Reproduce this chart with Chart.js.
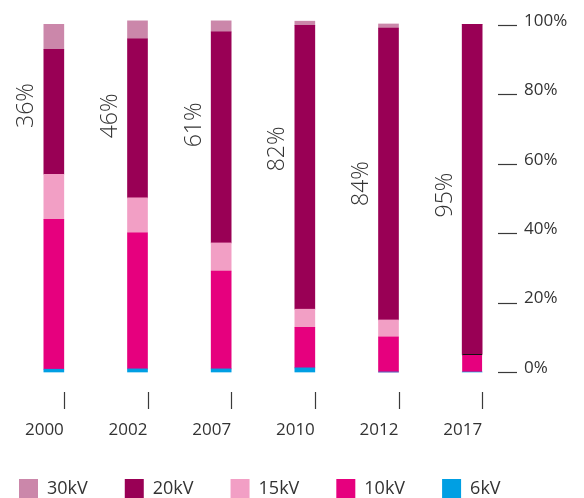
<!DOCTYPE html>
<html><head><meta charset="utf-8">
<script src="https://cdn.jsdelivr.net/npm/chart.js@4/dist/chart.umd.min.js"></script>
<style>
html,body{margin:0;padding:0;overflow:hidden;background:#fff;}
#wrap{position:relative;width:584px;height:508px;}
</style></head><body>
<div id="wrap"><canvas id="c"></canvas></div>
<script>
// ---- data ----
const years = ['2000', '2002', '2007', '2010', '2012', '2017'];
const kv6  = [0.8, 0.9, 0.9, 1.2, 0, 0];
const kv10 = [43.2, 39.2, 28.2, 11.7, 10.1, 5.1];
const kv15 = [13.0, 10.1, 8.1, 5.2, 4.9, 0];
const kv20 = [36.0, 45.8, 60.8, 81.8, 84.1, 95.1];
const kv30 = [7.2, 5.2, 3.2, 1.2, 1.2, 0];
const shareLabels = ['36%', '46%', '61%', '82%', '84%', '95%'];
const shareLabelAt = [76.8, 73.8, 71.2, 64.3, 54.3, 51.0]; // value (in %) where each rotated label is centred
const yTickValues = [0, 20, 40, 60, 80, 100];

const BAR = 20;
const FONT = 'Open Sans';
const TXT = '#333';

const marks = {
  id: 'marks',
  afterLayout(chart) {
    const lg = chart.legend;
    if (lg) { lg.left -= 30; lg.right -= 30; }
  },
  afterDraw(chart) {
    const {ctx, chartArea, scales: {x, y}} = chart;
    ctx.save();
    ctx.strokeStyle = '#3a3a3a';
    ctx.lineWidth = 1.2;
    yTickValues.forEach(v => {
      const py = Math.round(y.getPixelForValue(v)) + 0.5;
      ctx.beginPath();
      ctx.moveTo(chartArea.right - 16, py);
      ctx.lineTo(chartArea.right + 3, py);
      ctx.stroke();
    });
    years.forEach((_, i) => {
      const px = Math.round(x.getPixelForValue(i) + BAR / 2) + 0.5;
      ctx.beginPath();
      ctx.moveTo(px, chartArea.bottom + 20);
      ctx.lineTo(px, chartArea.bottom + 37);
      ctx.stroke();
    });
    ctx.fillStyle = TXT;
    ctx.font = '300 23px "' + FONT + '"';
    ctx.textAlign = 'center';
    ctx.textBaseline = 'middle';
    shareLabels.forEach((s, i) => {
      ctx.save();
      ctx.translate(x.getPixelForValue(i) - 27, y.getPixelForValue(shareLabelAt[i]));
      ctx.rotate(-Math.PI / 2);
      ctx.fillText(s, 0, 0);
      ctx.restore();
    });
    ctx.restore();
  }
};

const ds = (label, data, color, extra) => Object.assign({
  label, data, backgroundColor: color, borderWidth: 0, barThickness: BAR, clip: false
}, extra || {});

new Chart(document.getElementById('c'), {
  type: 'bar',
  data: {
    labels: years,
    datasets: [
      ds('6kV', kv6, '#009fe3'),
      ds('10kV', kv10, '#e6007e', {
        borderColor: '#111',
        borderWidth: c => (c.dataIndex === 5 ? {top: 1, left: 0, right: 0, bottom: 0} : 0)
      }),
      ds('15kV', kv15, '#f29fc5'),
      ds('20kV', kv20, '#990055'),
      ds('30kV', kv30, '#cb87aa')
    ]
  },
  options: {
    responsive: true,
    maintainAspectRatio: false,
    animation: false,
    layout: {padding: {left: 12, right: 0, top: 25, bottom: 0}},
    plugins: {
      tooltip: {enabled: false},
      legend: {
        position: 'bottom',
        align: 'start',
        reverse: true,
        labels: {
          boxWidth: 19, boxHeight: 19, padding: 37, color: TXT,
          font: {family: FONT, size: 18, weight: 400}
        }
      }
    },
    scales: {
      x: {
        stacked: true,
        offset: true,
        grid: {display: false},
        border: {display: false},
        afterFit: s => { s.height = 70; s.paddingLeft = 0; s.paddingRight = 0; },
        ticks: {
          align: 'end', labelOffset: BAR / 2, padding: 40, color: TXT,
          maxRotation: 0, autoSkip: false,
          font: {family: FONT, size: 17, weight: 400}
        }
      },
      y: {
        position: 'right',
        stacked: true,
        min: 0, max: 100,
        afterBuildTicks: s => { s.ticks = yTickValues.map(v => ({value: v})); },
        afterFit: s => { s.width = 70; },
        grid: {display: false},
        border: {display: false},
        ticks: {
          callback: v => v + '%', padding: 2, labelOffset: -4, color: TXT,
          font: {family: FONT, size: 17, weight: 400}
        }
      }
    }
  },
  plugins: [marks]
});
</script>
</body></html>
